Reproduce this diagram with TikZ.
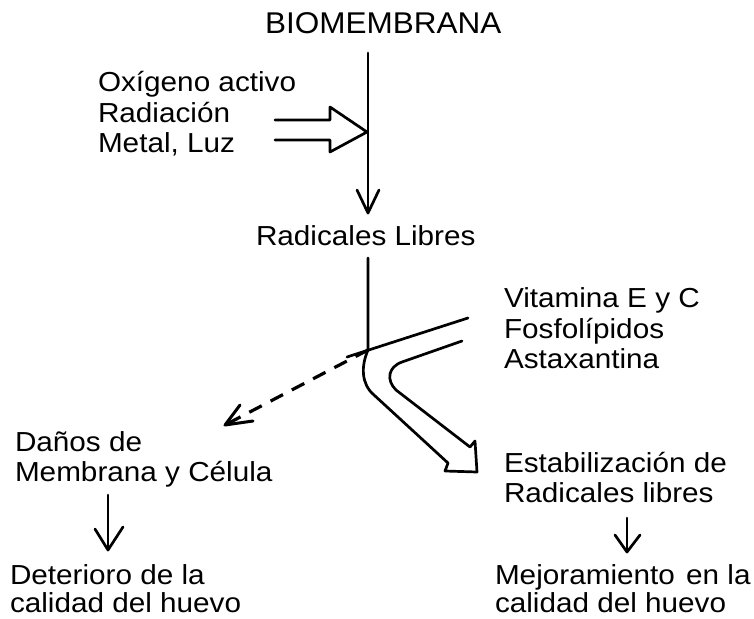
\documentclass[tikz,border=0pt]{standalone}
\usepackage{fontspec}
\setmainfont{Liberation Sans}[FakeStretch=1.08]
\newfontfamily\titlefont{Liberation Sans}[FakeStretch=1.05]
\begin{document}
\begin{tikzpicture}[x=1pt,y=-1pt,
  lbl/.style={anchor=base west,inner sep=0pt,outer sep=0pt,font=\fontsize{27.5}{30}\selectfont},
  ttl/.style={anchor=base west,inner sep=0pt,outer sep=0pt,font=\titlefont\fontsize{30}{34}\selectfont},
  ln/.style={line width=2.7pt,line cap=round,line join=round},
  dsh/.style={line width=3.2pt,dash pattern=on 14pt off 10pt}]
\useasboundingbox (0,0) rectangle (754,618);
\fill[white] (0,0) rectangle (754,618);
% texts
\node[ttl] (bio) at (265,34) {BIOMEMBRANA};
\node[lbl] (ox) at (98,91) {Oxígeno activo};
\node[lbl] (rad) at (98,122) {Radiación};
\node[lbl] (met) at (98,152) {Metal, Luz};
\node[lbl] (rl) at (256,245) {Radicales Libres};
\node[lbl] (vit) at (504,307) {Vitamina E y C};
\node[lbl] (fos) at (504,338) {Fosfolípidos};
\node[lbl] (ast) at (504,368) {Astaxantina};
\node[lbl] (dan) at (15,451) {Daños de};
\node[lbl] (mem) at (15,481) {Membrana y Célula};
\node[lbl] (est) at (504,472) {Estabilización de};
\node[lbl] (rlb) at (504,502) {Radicales libres};
\node[lbl] (det) at (10,584) {Deterioro de la};
\node[lbl] (cal1) at (10,612) {calidad del huevo};
\node[lbl] (mej) at (495,584) {Mejoramiento\hspace{3pt} en la};
\node[lbl] (cal2) at (495,612) {calidad del huevo};
% coordinates
\coordinate (a1) at (368,53);
\coordinate (a2) at (368,213);
\coordinate (b1) at (368,258);
\coordinate (x) at (368,350);
\coordinate (dtip) at (225,425);
% top vertical arrow
\draw[ln] (a1) -- (a2);
\draw[ln] (357,190) -- (a2) -- (379,190);
% hollow double arrow
\draw[ln] (275,120) -- (330,120) -- (330,107) -- (367,132) -- (330,152) -- (330,140) -- (275,140);
% bent hollow arrow
\draw[ln] (b1) -- (x) .. controls (361,366) and (361,384) .. (374,395) -- (448,463)
  -- (445,471) -- (477,472) -- (475,441) -- (470,447)
  -- (396,390) .. controls (386,380) and (388,367) .. (402,362) -- (462,341);
\draw[ln] (347,357) -- (468,318);
% dashed arrow
\draw[dsh] (x) -- (dtip);
\draw[ln,line width=3pt] (240,405) -- (dtip) -- (253,421);
% bottom left arrow
\draw[ln] (108,495) -- (108,550);
\draw[ln] (95,529) -- (108,550) -- (123,527);
% bottom right arrow
\draw[ln] (627,518) -- (627,552);
\draw[ln] (615,535) -- (627,552) -- (640,535);
\end{tikzpicture}
\end{document}
